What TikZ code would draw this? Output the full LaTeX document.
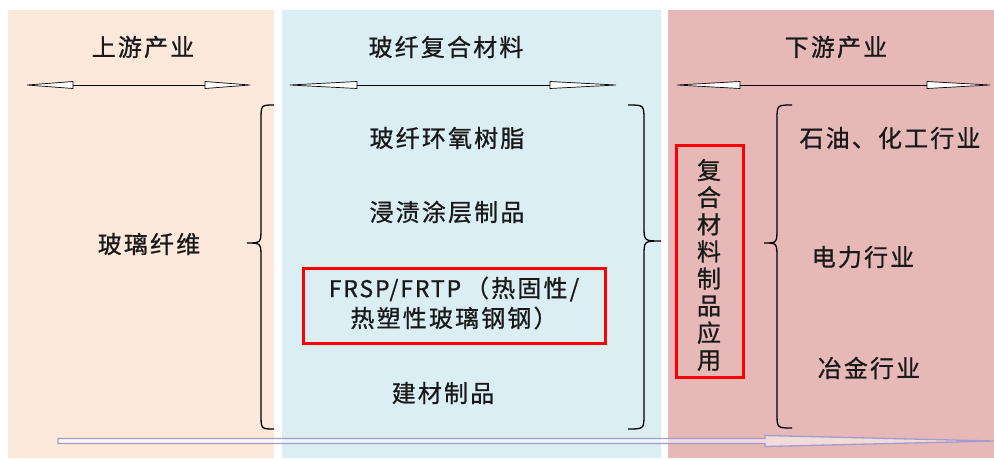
\documentclass[tikz,border=0pt]{standalone}
\usepackage{fontspec}
\setmainfont{Noto Sans CJK SC}[LetterSpace=9, FakeBold=0.8]
\newfontfamily\latf{Noto Sans CJK SC}[LetterSpace=8, FakeBold=0.8]
\definecolor{pA}{HTML}{FCE9DB}
\definecolor{pB}{HTML}{DAEEF3}
\definecolor{pC}{HTML}{E6B8B7}
\definecolor{lav}{HTML}{A39BCC}
\begin{document}
\begin{tikzpicture}[x=1pt,y=-1pt,
  txt/.style={font=\fontsize{24}{30}\selectfont, inner sep=0pt, text=black!90},
  bracestyle/.style={draw=black, line width=1.3pt},
  dhead/.style={draw=black, fill=white, line width=0.7pt, line join=miter},
  redbox/.style={draw=red, line width=3pt}]
\useasboundingbox (0,0) rectangle (994,459);
\fill[white] (0,0) rectangle (994,459);
% panels
\fill[pA] (7.5,10) rectangle (274,458);
\fill[pB] (281.5,10) rectangle (661,458);
\fill[pC] (668,10) rectangle (994,458);
% top double arrows
\foreach \a/\b/\c/\d in {27/73/205/250, 290/357/550/616, 677/740/927/990} {
  \draw[line width=1pt] (\b,85) -- (\c,85);
  \draw[dhead] (\a,85) -- (\b,81.5) -- (\b,88.5) -- cycle;
  \draw[dhead] (\d,85) -- (\c,81.5) -- (\c,88.5) -- cycle;
}
% headings
\node[txt] (up) at (143,47) {上游产业};
\node[txt] (mid) at (446,47) {玻纤复合材料};
\node[txt] (down) at (836,47) {下游产业};
% left
\node[txt] (gf) at (149,244) {玻璃纤维};
\draw[bracestyle] (274,105) .. controls (261,105) .. (261,120) -- (261,228)
  .. controls (261,243) .. (247,243) .. controls (261,243) .. (261,258)
  -- (261,414) .. controls (261,429) .. (274,429);
% middle
\node[txt] (m1) at (447,138) {玻纤环氧树脂};
\node[txt] (m2) at (447,212) {浸渍涂层制品};
\draw[redbox] (303,268) rectangle (605,343);
\node[txt, align=center] (m3) at (454,303) {{\latf\fontsize{23}{30}\selectfont FRSP/FRTP}\,（热固性/\\热塑性玻璃钢钢）};
\node[txt] (m4) at (443,393) {建材制品};
\draw[bracestyle] (628,105) .. controls (644,105) .. (644,120) -- (644,226)
  .. controls (644,241) .. (661,241) .. controls (644,241) .. (644,256)
  -- (644,414) .. controls (644,429) .. (628,429);
% right
\draw[redbox] (676,145) rectangle (743,377);
\node[txt, align=center, font=\fontsize{24}{27.1}\selectfont] (app) at (709,265) {复\\合\\材\\料\\制\\品\\应\\用};
\draw[bracestyle] (792,105) .. controls (777,105) .. (777,120) -- (777,228)
  .. controls (777,243) .. (764,243) .. controls (777,243) .. (777,258)
  -- (777,413) .. controls (777,428) .. (792,428);
\node[txt] (r1) at (890,138) {石油、化工行业};
\node[txt] (r2) at (863,257) {电力行业};
\node[txt] (r3) at (869,368) {冶金行业};
% bottom arrow
\coordinate (bs) at (58,441);
\coordinate (be) at (994,441);
\draw[draw=lav, fill=white, fill opacity=0.5, draw opacity=1, line width=1.3pt]
  (bs) ++(0,-2.5) -- (765,438.5) -- (765,435.5) -- (be) -- (765,446.5) -- (765,443.5) -- (58,443.5) -- cycle;
\end{tikzpicture}
\end{document}
